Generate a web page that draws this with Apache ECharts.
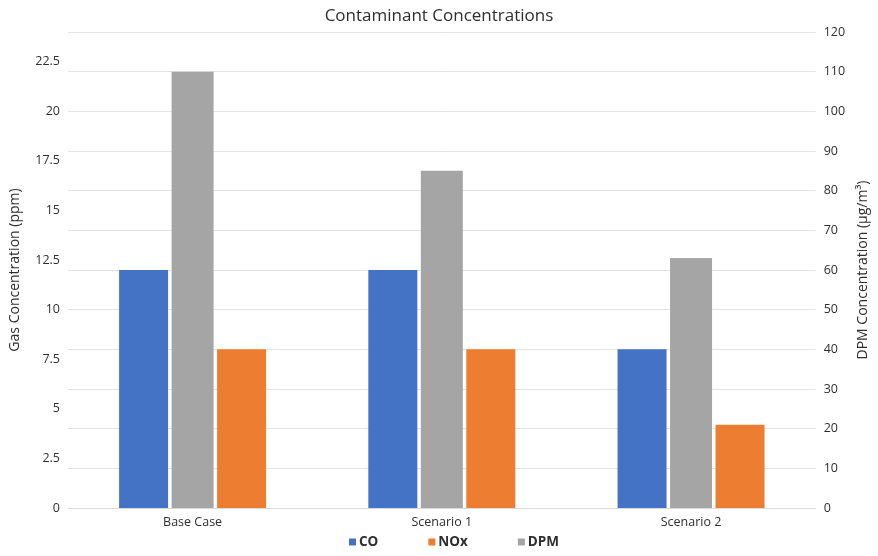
<!DOCTYPE html>
<html>
<head>
<meta charset="utf-8">
<title>Contaminant Concentrations</title>
<script src="https://cdn.jsdelivr.net/npm/echarts@6/dist/echarts.min.js"></script>
<style>
  html, body { margin: 0; padding: 0; background: #fff; }
  #chart { width: 878px; height: 556px; }
</style>
</head>
<body>
<div id="chart"></div>
<script>
// Scenarios along the x axis
const categories = ['Base Case', 'Scenario 1', 'Scenario 2'];
// Gas concentrations (ppm), left axis
const coValues = [12, 12, 8];
const noxValues = [8, 8, 4.2];
// Diesel particulate matter (µg/m³), right axis
const dpmValues = [110, 85, 63];
// Axis ranges
const gasAxis = { min: 0, max: 24, step: 2.5, lastLabel: 22.5 };
const dpmAxis = { min: 0, max: 120, step: 10 };

const FONT = '"Open Sans", "Liberation Sans", sans-serif';
const TEXT = '#2e2e2e';

const chart = echarts.init(document.getElementById('chart'), null, { renderer: 'canvas' });

chart.setOption({
  animation: false,
  textStyle: { fontFamily: FONT },
  title: {
    text: 'Contaminant Concentrations',
    left: 'center',
    top: 3,
    textStyle: { fontFamily: FONT, fontSize: 17, fontWeight: 'normal', color: TEXT }
  },
  legend: {
    data: ['CO', 'NOx', 'DPM'],
    bottom: 2,
    left: 344,
    itemWidth: 7,
    itemHeight: 7,
    itemGap: 50,
    icon: 'rect',
    textStyle: { fontFamily: FONT, fontSize: 13.5, fontWeight: 'bold', color: TEXT, padding: [0, 0, 0, -2] }
  },
  grid: { left: 66, right: 58, top: 32, bottom: 48, containLabel: false },
  xAxis: [
    {
      type: 'category',
      data: categories,
      axisLine: { show: true, lineStyle: { color: '#d9d9d9', width: 1 } },
      axisTick: { show: false },
      axisLabel: { fontFamily: FONT, fontSize: 12.5, color: TEXT, margin: 8 }
    },
    {
      type: 'category',
      data: categories,
      show: false
    }
  ],
  yAxis: [
    {
      type: 'value',
      name: 'Gas Concentration (ppm)',
      nameLocation: 'middle',
      nameGap: 46,
      nameTextStyle: { fontFamily: FONT, fontSize: 14, color: TEXT },
      min: gasAxis.min,
      max: gasAxis.max,
      interval: gasAxis.step,
      axisLine: { show: false },
      axisTick: { show: false },
      splitLine: { show: false },
      axisLabel: {
        fontFamily: FONT, fontSize: 12.5, color: TEXT, margin: 8,
        formatter: v => (v > gasAxis.lastLabel + 1e-9 ? '' : String(v))
      }
    },
    {
      type: 'value',
      name: 'DPM Concentration (µg/m³)',
      nameLocation: 'middle',
      nameGap: 40,
      nameRotate: 90,
      nameTextStyle: { fontFamily: FONT, fontSize: 14, color: TEXT },
      min: dpmAxis.min,
      max: dpmAxis.max,
      interval: dpmAxis.step,
      position: 'right',
      axisLine: { show: false },
      axisTick: { show: false },
      splitLine: { show: true, lineStyle: { color: '#e3e3e3', width: 1 } },
      axisLabel: { fontFamily: FONT, fontSize: 12.5, color: TEXT, margin: 8 }
    }
  ],
  series: [
    {
      name: 'CO',
      type: 'bar',
      xAxisIndex: 0,
      yAxisIndex: 0,
      data: coValues,
      barWidth: 49,
      barGap: '100%',
      itemStyle: { color: '#4472C4' }
    },
    {
      name: 'NOx',
      type: 'bar',
      xAxisIndex: 0,
      yAxisIndex: 0,
      data: noxValues,
      barWidth: 49,
      barGap: '100%',
      itemStyle: { color: '#ED7D31' }
    },
    {
      name: 'DPM',
      type: 'bar',
      xAxisIndex: 1,
      yAxisIndex: 1,
      data: dpmValues,
      barWidth: 42,
      itemStyle: { color: '#A5A5A5' }
    }
  ]
});
</script>
</body>
</html>
